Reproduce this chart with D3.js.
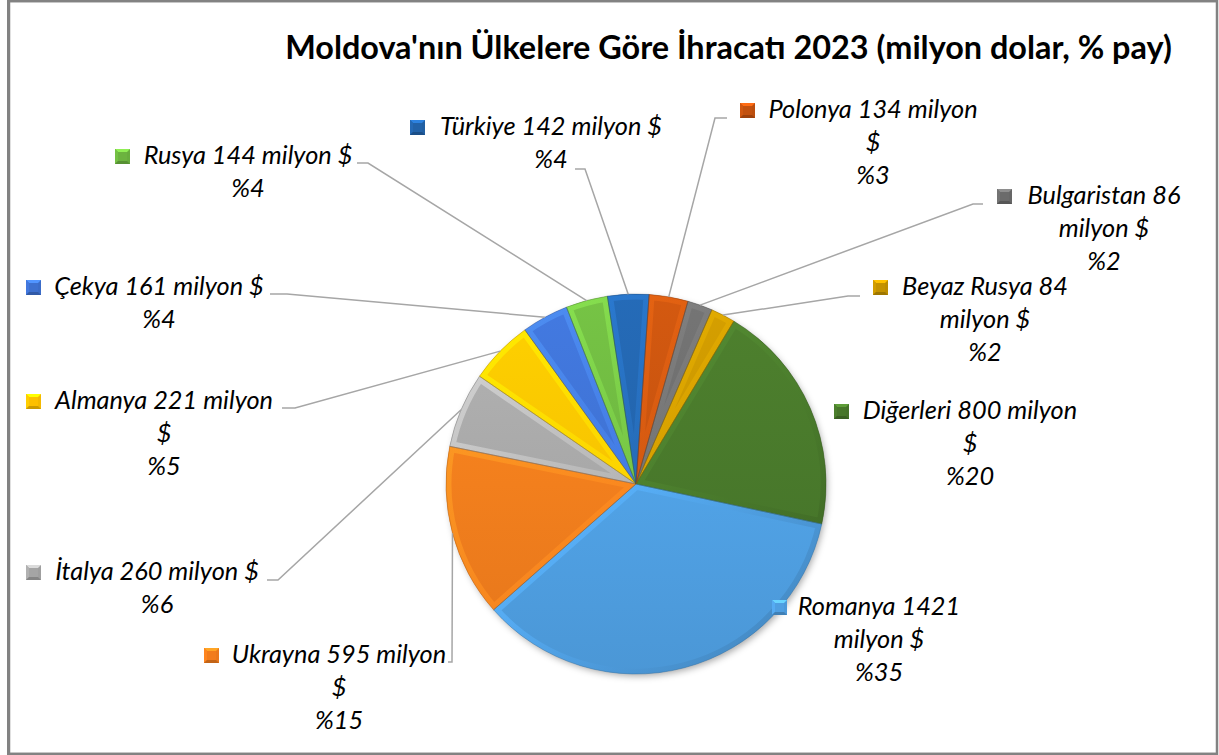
<!DOCTYPE html>
<html><head><meta charset="utf-8">
<script src="https://cdn.jsdelivr.net/npm/d3@7"></script>
<style>html,body{margin:0;padding:0;background:#fff;}svg{display:block;}</style>
</head><body>
<svg id="c" width="1219" height="755"></svg>
<script>
// ---- data ----
const countries = ["Diğerleri","Romanya","Ukrayna","İtalya","Almanya","Çekya","Rusya","Türkiye","Polonya","Bulgaristan","Beyaz Rusya"];
const exportsMillionUSD = [800,1421,595,260,221,161,144,142,134,86,84];
const sliceColors = ["#47762a","#4f9fe2","#f27c1c","#a5a5a5","#fdc000","#3d70cf","#6cb33f","#2262a8","#c2510f","#6b6b6b","#c49200"];
const titleText = "Moldova'nın Ülkelere Göre İhracatı 2023 (milyon dolar, % pay)";
const unitText = "milyon $";

// ---- layout (positions only) ----
const layout = {
  "Türkiye":     {tx:551, ty:135, kx:410, words:4, leader:[[575,169],[585,169]]},
  "Polonya":     {tx:873, ty:118, kx:740, words:3, leader:[[727,118],[715,118]]},
  "Bulgaristan": {tx:1104,ty:204, kx:997, words:2, leader:[[983,204],[973,204]]},
  "Beyaz Rusya": {tx:985, ty:295, kx:873, words:3, leader:[[860,296],[848,296]]},
  "Diğerleri":   {tx:970, ty:419, kx:834, words:3, leader:null},
  "Romanya":     {tx:879, ty:615, kx:772, words:2, leader:null},
  "Ukrayna":     {tx:339, ty:663, kx:204, words:3, leader:[[448,662],[452,662]]},
  "İtalya":      {tx:157, ty:580, kx:26,  words:4, leader:[[267,580],[278,580]]},
  "Almanya":     {tx:164, ty:409, kx:26,  words:3, leader:[[282,408],[295,408]]},
  "Çekya":       {tx:159, ty:295, kx:26,  words:4, leader:[[270,294],[287,294]]},
  "Rusya":       {tx:248, ty:164, kx:115, words:4, leader:[[357,163],[368,163]]}
};
const cx = 636, cy = 484, R = 190, start = 31*Math.PI/180, lineH = 33;

const svg = d3.select("#c");
const defs = svg.append("defs");

// background + border
svg.append("rect").attr("x",0).attr("y",0).attr("width",1219).attr("height",755).attr("fill","#fff");
svg.append("rect").attr("x",9).attr("y",1.2).attr("width",1208).attr("height",752.6)
  .attr("fill","none").attr("stroke","#828282").attr("stroke-width",2.5);
svg.append("line").attr("x1",8.5).attr("x2",8.5).attr("y1",0).attr("y2",755).attr("stroke","#828282").attr("stroke-width",3);

// title
const title = svg.append("text").attr("x",728.5).attr("y",59).attr("text-anchor","middle")
  .attr("font-family","Lato, 'Open Sans', sans-serif").attr("font-weight","bold")
  .attr("font-size",100).attr("fill","#000").text(titleText);
{ const w = title.node().getComputedTextLength(); title.attr("font-size", 100*887/w); }

// drop shadow filter
const f = defs.append("filter").attr("id","sh").attr("x","-20%").attr("y","-20%").attr("width","140%").attr("height","140%");
f.append("feDropShadow").attr("dx",2).attr("dy",3).attr("stdDeviation",3.5).attr("flood-color","#000").attr("flood-opacity",0.35);

const total = d3.sum(exportsMillionUSD);
const data = countries.map((c,i)=>({name:c, value:exportsMillionUSD[i], color:sliceColors[i], pct:Math.round(exportsMillionUSD[i]/total*100)}));
const pie = d3.pie().sort(null).value(d=>d.value).startAngle(start).endAngle(start+2*Math.PI);
const arcs = pie(data);
const arc = d3.arc().innerRadius(0).outerRadius(R);

const g = svg.append("g").attr("transform",`translate(${cx},${cy})`);
const shadowG = g.append("g").attr("filter","url(#sh)");
shadowG.append("circle").attr("r",R-1).attr("fill","#888");

arcs.forEach((a,i)=>{
  const c = d3.color(a.data.color);
  const fg = defs.append("linearGradient").attr("id","fill"+i).attr("gradientUnits","userSpaceOnUse")
    .attr("x1",0).attr("y1",-R).attr("x2",0).attr("y2",R);
  fg.append("stop").attr("offset","0%").attr("stop-color",c.brighter(0.25));
  fg.append("stop").attr("offset","100%").attr("stop-color",c.darker(0.15));
  const bg = defs.append("linearGradient").attr("id","bev"+i).attr("gradientUnits","userSpaceOnUse")
    .attr("x1",-R).attr("y1",-R).attr("x2",R).attr("y2",R);
  bg.append("stop").attr("offset","0%").attr("stop-color",c.brighter(1.0));
  bg.append("stop").attr("offset","50%").attr("stop-color",c.brighter(0.35));
  bg.append("stop").attr("offset","100%").attr("stop-color",c.darker(0.9));
  defs.append("clipPath").attr("id","clip"+i).append("path").attr("d",arc(a)).attr("transform",`translate(${cx},${cy})`);
});

const sg = g.selectAll("g.slice").data(arcs).join("g").attr("class","slice");
sg.append("path").attr("d",arc).attr("fill",(d,i)=>`url(#fill${i})`);
// bevel band, clipped to slice
arcs.forEach((a,i)=>{
  svg.append("g").attr("clip-path",`url(#clip${i})`)
    .append("path").attr("transform",`translate(${cx},${cy})`).attr("d",arc(a))
    .attr("fill","none").attr("stroke",`url(#bev${i})`).attr("stroke-width",11)
    .attr("stroke-linejoin","round").attr("opacity",0.65);
});
svg.append("g").attr("transform",`translate(${cx},${cy})`).selectAll("path").data(arcs).join("path")
  .attr("d",arc).attr("fill","none").attr("stroke",d=>d3.color(d.data.color).darker(0.9)).attr("stroke-width",0.8).attr("stroke-opacity",0.6);

// leader lines
arcs.forEach(a=>{
  const L = layout[a.data.name];
  if(!L.leader) return;
  const m = (a.startAngle+a.endAngle)/2;
  const px = cx + R*Math.sin(m), py = cy - R*Math.cos(m);
  const pts = L.leader.concat([[px,py]]);
  svg.append("path").attr("d",d3.line()(pts)).attr("fill","none").attr("stroke","#a6a6a6").attr("stroke-width",1.5);
});

// labels
const lab = svg.append("g").attr("font-family","Lato, 'Open Sans', sans-serif").attr("font-style","italic").attr("fill","#000");
const probe = lab.append("text").attr("font-size",100).text("Türkiye 142 "+unitText);
const fs = 100*222/probe.node().getComputedTextLength();
probe.remove();
arcs.forEach((a,i)=>{
  const d = a.data, L = layout[d.name];
  const words = (d.name+" "+d.value+" "+unitText).split(" ");
  const lines = [words.slice(0,L.words).join(" ")];
  if(words.length>L.words) lines.push(words.slice(L.words).join(" "));
  lines.push("%"+d.pct);
  const t = lab.append("text").attr("text-anchor","middle").attr("font-size",fs);
  lines.forEach((s,j)=>t.append("tspan").attr("x",L.tx).attr("y",L.ty+j*lineH).text(s));
  // key
  const c = d3.color(d.color);
  const k = 15, kx = L.kx, ky = L.ty-15;
  svg.append("rect").attr("x",kx).attr("y",ky).attr("width",k).attr("height",k).attr("fill",c.darker(0.1));
  svg.append("path").attr("d",`M${kx},${ky}L${kx+k},${ky}L${kx+k/2},${ky+k/2}Z`).attr("fill",c.brighter(0.8));
  svg.append("path").attr("d",`M${kx},${ky}L${kx+k/2},${ky+k/2}L${kx},${ky+k}Z`).attr("fill",c.brighter(0.2));
  svg.append("path").attr("d",`M${kx},${ky+k}L${kx+k/2},${ky+k/2}L${kx+k},${ky+k}Z`).attr("fill",c.darker(0.6));
  svg.append("rect").attr("x",kx+3).attr("y",ky+3).attr("width",k-6).attr("height",k-6).attr("fill",c);
});
</script>
</body></html>
